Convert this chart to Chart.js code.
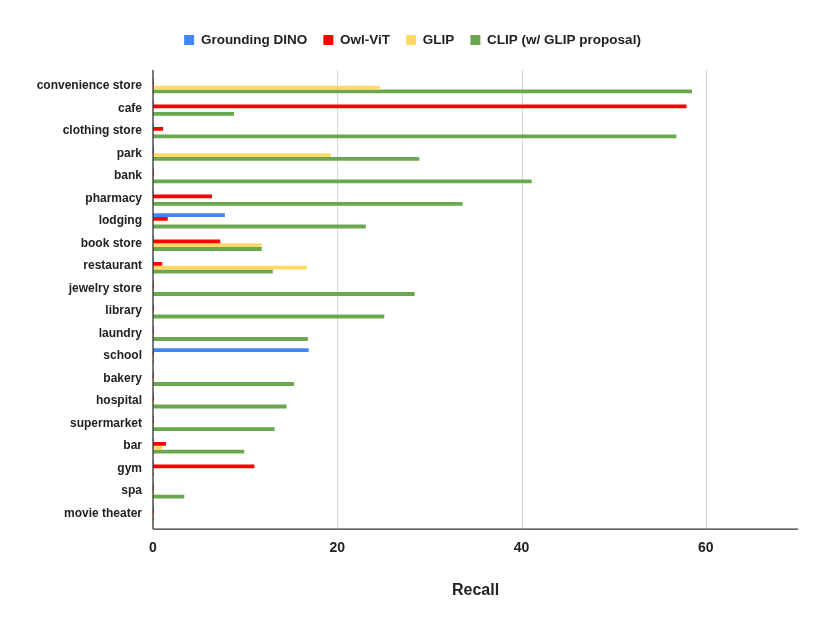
<!DOCTYPE html>
<html>
<head>
<meta charset="utf-8">
<script src="https://cdn.jsdelivr.net/npm/chart.js@4/dist/chart.umd.min.js"></script>
<style>
  html, body { margin: 0; padding: 0; background: #fff; }
  #wrap { width: 830px; height: 633px; }
</style>
</head>
<body>
<div id="wrap"><canvas id="c" width="830" height="633"></canvas></div>
<script>
const categories = ['convenience store','cafe','clothing store','park','bank','pharmacy','lodging','book store','restaurant','jewelry store','library','laundry','school','bakery','hospital','supermarket','bar','gym','spa','movie theater'];
const seriesNames = ['Grounding DINO','Owl-ViT','GLIP','CLIP (w/ GLIP proposal)'];
const groundingDino = [0.1,0.1,0.1,0.1,0.1,0.1,7.8,0.1,0.1,0.1,0.1,0.1,16.9,0.1,0.1,0.1,0.1,0.1,0.1,0.1];
const owlVit        = [0.1,57.9,1.1,0.1,0.1,6.4,1.6,7.3,1.0,0.1,0.1,0.1,0.1,0.1,0.1,0.1,1.4,11.0,0.1,0.1];
const glip          = [24.6,0.1,0.1,19.3,0.1,0.1,0.1,11.8,16.7,0.1,0.1,0.1,0.1,0.1,0.1,0.1,1.0,0.1,0.1,0.1];
const clipGlip      = [58.5,8.8,56.8,28.9,41.1,33.6,23.1,11.8,13.0,28.4,25.1,16.8,0.1,15.3,14.5,13.2,9.9,0.1,3.4,0.1];
const xTicks = [0,20,40,60];
const xMax = 70;
const colors = ['#4285F4','#FF0000','#FFD966','#6AA84F'];

const FONT = '"Liberation Sans", Arial, sans-serif';
const EXT = 4.5;

const legendMargin = {
  id: 'legendMargin',
  beforeInit(chart) {
    const orig = chart.legend.fit;
    chart.legend.fit = function () {
      orig.bind(chart.legend)();
      this.height += 17.75;
    };
  }
};

const axesPlugin = {
  id: 'axesPlugin',
  beforeDatasetsDraw(chart) {
    const {ctx, chartArea} = chart;
    const xs = chart.scales.x;
    ctx.save();
    ctx.strokeStyle = '#d6d6d6';
    ctx.lineWidth = 1;
    xTicks.forEach(v => {
      if (v === 0) return;
      const x = Math.round(xs.getPixelForValue(v)) + 0.5;
      ctx.beginPath();
      ctx.moveTo(x, chartArea.top - EXT);
      ctx.lineTo(x, chartArea.bottom + EXT);
      ctx.stroke();
    });
    ctx.restore();
  },
  afterDatasetsDraw(chart) {
    const {ctx, chartArea} = chart;
    const xs = chart.scales.x;
    const x0 = xs.getPixelForValue(0);
    ctx.save();
    ctx.strokeStyle = '#333333';
    ctx.lineWidth = 1.3;
    ctx.beginPath();
    ctx.moveTo(x0, chartArea.top - EXT);
    ctx.lineTo(x0, chartArea.bottom + EXT);
    ctx.stroke();
    ctx.beginPath();
    ctx.moveTo(x0, chartArea.bottom + EXT);
    ctx.lineTo(xs.getPixelForValue(xMax), chartArea.bottom + EXT);
    ctx.stroke();
    ctx.restore();
  }
};

const seriesData = [groundingDino, owlVit, glip, clipGlip];

new Chart(document.getElementById('c'), {
  type: 'bar',
  data: {
    labels: categories,
    datasets: seriesData.map((d, i) => ({
      label: seriesNames[i],
      data: d,
      backgroundColor: colors[i],
      borderWidth: 0,
      barPercentage: 1.0,
      categoryPercentage: 0.675
    }))
  },
  options: {
    indexAxis: 'y',
    responsive: false,
    animation: false,
    devicePixelRatio: 1,
    layout: { padding: { left: 27, right: 32, top: 17.25, bottom: 32.4 } },
    plugins: {
      legend: {
        position: 'top',
        labels: {
          boxWidth: 10,
          boxHeight: 10,
          padding: 16,
          color: '#222',
          font: { family: FONT, size: 13.5, weight: 'bold' }
        }
      },
      tooltip: { enabled: false }
    },
    scales: {
      x: {
        type: 'linear',
        min: 0,
        max: xMax,
        grid: { display: false, drawTicks: false },
        border: { display: false },
        ticks: {
          stepSize: 20,
          includeBounds: false,
          padding: 15,
          color: '#222',
          font: { family: FONT, size: 14, weight: 'bold' },
          callback: (v) => xTicks.includes(v) ? String(v) : ''
        },
        title: {
          display: true,
          text: 'Recall',
          color: '#222',
          padding: { top: 10, bottom: 0 },
          font: { family: FONT, size: 16, weight: 'bold' }
        }
      },
      y: {
        grid: { display: false, drawTicks: false },
        border: { display: false },
        ticks: {
          padding: 11,
          color: '#222',
          autoSkip: false,
          font: { family: FONT, size: 12, weight: 'bold' }
        },
        afterFit(s) { s.width = 126; }
      }
    }
  },
  plugins: [legendMargin, axesPlugin]
});
</script>
</body>
</html>
